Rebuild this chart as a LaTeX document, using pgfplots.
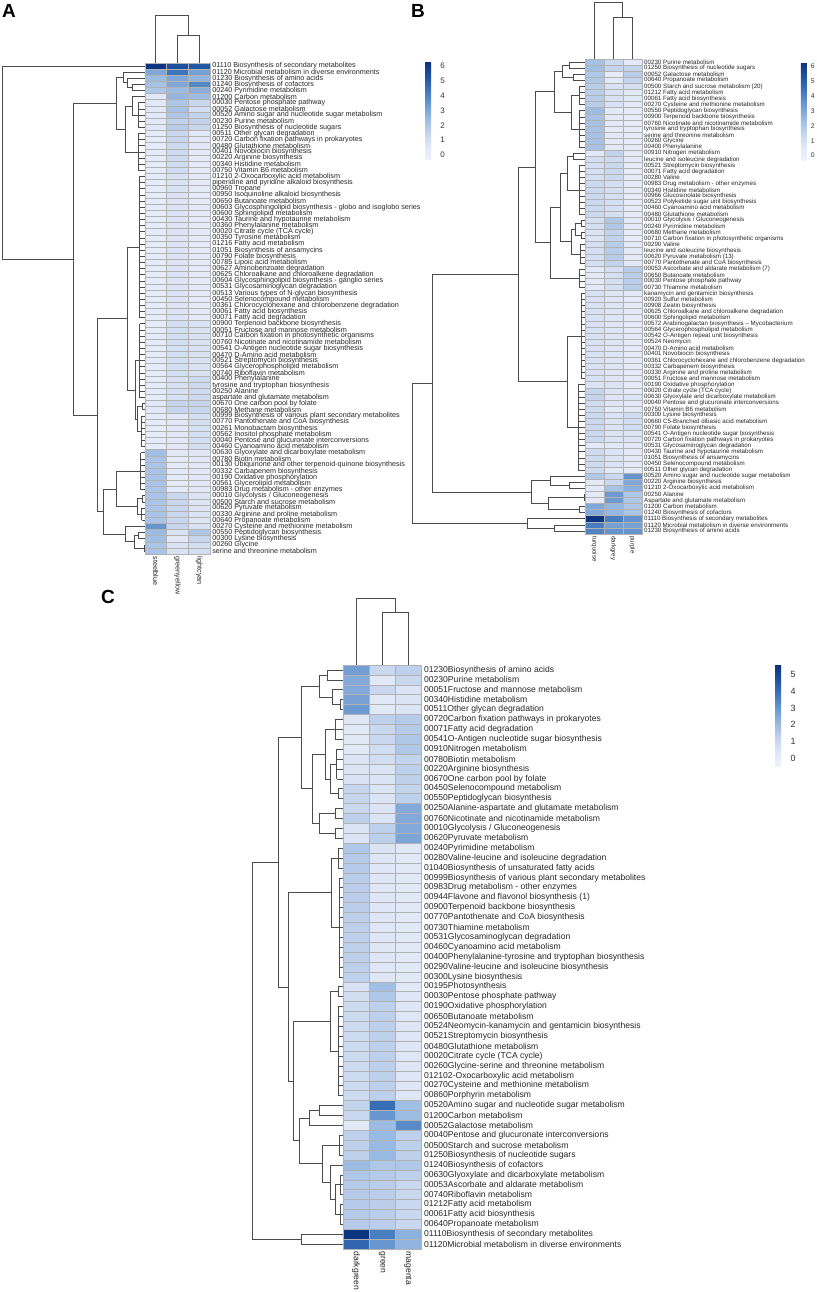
\documentclass[border=0pt]{standalone}
\usepackage{fontspec}
\setmainfont{Liberation Sans}
\usepackage{pgfplots}
\usepackage{pgfplotstable}
\pgfplotsset{compat=1.18}

\pgfplotsset{colormap={heat}{rgb255=(241,243,251) rgb255=(224,231,246) rgb255=(194,211,237) rgb255=(152,185,225) rgb255=(106,152,208) rgb255=(62,117,188) rgb255=(30,82,160) rgb255=(12,50,126)}}

\pgfdeclareplotmark{cellA}{\pgfpathrectangle{\pgfqpoint{-5.415pt}{-1.535pt}}{\pgfqpoint{10.83pt}{3.07pt}}\pgfusepathqfillstroke}
\pgfdeclareplotmark{cellB}{\pgfpathrectangle{\pgfqpoint{-4.75pt}{-1.5225pt}}{\pgfqpoint{9.5pt}{3.045pt}}\pgfusepathqfillstroke}
\pgfdeclareplotmark{cellC}{\pgfpathrectangle{\pgfqpoint{-6.5pt}{-2.475pt}}{\pgfqpoint{13pt}{4.95pt}}\pgfusepathqfillstroke}

\pgfplotsset{
  dend/.style={no markers, line width=0.35pt, draw=black!70, forget plot},
  hm/.style={scale only axis, enlargelimits=false, clip=false, y dir=reverse,
    axis line style={draw=none}, major tick length=0pt, xtick=\empty,
    yticklabel pos=right, yticklabel style={inner sep=0pt, xshift=1pt, text=black!85},
    colormap name=heat},
  cell/.style={scatter, only marks, mark=#1, point meta=explicit,
    scatter/use mapped color={draw=gray!60, fill=mapped color}, mark options={line width=0.3pt}},
}

% row dendrogram link: y1 h1 y2 h2 H
\newcommand\U[5]{\addplot[dend] coordinates {(-#2,#1) (-#5,#1) (-#5,#3) (-#4,#3)};}
% comb of leaves rows #1..#2 at height #3
\newcommand\Comb[3]{\addplot[dend] coordinates {(-#3,#1) (-#3,#2)};%
  \foreach \r in {#1,...,#2}{\edef\tmp{\noexpand\addplot[dend] coordinates {(0,\r) (-#3,\r)};}\tmp}}
% column dendrogram link: x1 y1 x2 y2 Y
\newcommand\V[5]{\addplot[dend] coordinates {(#1,#2) (#1,#5) (#3,#5) (#3,#4)};}

\pgfplotstableread{
r a b c
1 6.2 5.4 5.2
2 3.0 4.4 3.2
3 2.4 3.0 2.6
4 2.2 3.0 3.9
5 2.0 2.4 2.8
6 0.6 2.6 2.4
7 0.5 2.0 1.3
8 0.5 2.2 1.0
9 0.5 2.0 1.6
10 0.5 1.6 1.6
11 0.5 1.8 1.3
12 0.3 1.3 0.5
13 0.3 1.3 0.5
14 0.3 1.2 0.5
15 0.3 1.2 0.4
16 0.3 1.2 0.4
17 0.3 1.1 0.4
18 0.3 1.1 0.4
19 0.3 0.8 0.4
20 0.3 0.8 0.4
21 0.3 0.8 0.4
22 0.3 0.8 0.4
23 0.3 0.7 0.4
24 0.3 0.7 0.4
25 0.3 0.7 0.4
26 0.3 0.7 0.4
27 0.3 0.7 0.4
28 0.3 0.7 0.4
29 0.3 0.7 0.4
30 0.3 0.7 0.4
31 0.3 0.7 0.4
32 0.3 0.7 0.4
33 0.3 0.7 0.4
34 0.3 0.7 0.4
35 0.3 0.7 0.4
36 0.3 0.7 0.4
37 0.3 0.7 0.4
38 0.3 0.7 0.4
39 0.3 0.7 0.4
40 0.3 0.7 0.4
41 0.3 0.7 0.4
42 0.3 0.7 0.4
43 0.3 1.0 0.8
44 0.3 1.0 0.8
45 0.3 1.0 0.8
46 0.3 1.0 0.8
47 0.3 1.0 0.8
48 0.3 1.0 0.8
49 0.3 1.0 0.8
50 0.3 1.0 0.8
51 0.3 1.0 0.8
52 0.3 0.9 1.2
53 0.3 0.9 1.2
54 0.3 0.9 1.2
55 0.3 0.9 1.2
56 0.5 1.4 1.4
57 0.5 1.4 1.4
58 0.3 0.5 1.0
59 0.3 0.5 1.0
60 0.3 0.5 1.0
61 0.3 0.5 1.0
62 0.3 0.5 1.0
63 0.3 0.5 1.0
64 2.3 0.5 0.6
65 2.1 0.4 0.5
66 2.1 0.4 0.5
67 2.1 0.4 0.5
68 2.1 0.4 0.5
69 2.1 0.4 0.5
70 2.1 0.4 0.5
71 2.1 1.3 0.7
72 2.1 1.3 0.7
73 2.1 1.3 0.7
74 2.1 1.3 0.7
75 2.1 1.3 0.7
76 3.5 1.4 0.8
77 2.4 0.8 2.0
78 2.3 0.5 1.4
79 2.1 0.8 1.0
80 2.1 0.8 1.0
}\dataA

\pgfplotstableread{
r a b c
1 2.2 1.3 0.5
2 2.3 1.5 1.5
3 2.0 0.3 1.8
4 2.0 0.5 1.5
5 1.8 0.9 1.0
6 1.8 0.9 0.6
7 1.8 0.9 0.6
8 1.8 0.9 0.6
9 2.4 0.5 0.4
10 2.2 0.5 0.3
11 2.2 0.5 0.3
12 2.2 0.5 0.3
13 2.2 0.5 0.3
14 2.2 0.5 0.3
15 2.2 0.5 0.3
16 0.5 1.6 0.5
17 1.0 1.2 0.5
18 1.0 1.3 0.3
19 1.0 1.3 0.3
20 1.0 1.3 0.3
21 1.3 1.0 0.3
22 1.3 1.0 0.3
23 1.3 1.0 0.3
24 1.3 1.0 0.3
25 1.3 1.0 0.3
26 1.3 1.0 0.3
27 1.0 2.0 0.5
28 1.0 2.0 0.5
29 0.8 1.6 0.4
30 0.8 1.6 0.3
31 1.0 1.8 0.5
32 1.0 1.8 0.5
33 1.0 1.8 0.5
34 1.0 1.6 0.5
35 0.5 1.0 1.8
36 0.5 1.0 1.8
37 0.5 1.0 1.8
38 0.5 1.0 1.8
39 0.9 0.7 0.4
40 0.9 0.7 0.4
41 0.9 0.7 0.4
42 0.9 0.7 0.4
43 0.9 0.7 0.4
44 0.9 0.7 0.4
45 0.9 0.7 0.4
46 0.9 0.7 0.4
47 0.9 0.7 0.4
48 0.9 0.7 0.4
49 0.9 0.7 0.4
50 0.9 0.7 0.4
51 0.9 0.7 0.4
52 0.9 0.7 0.4
53 0.9 0.7 0.4
54 0.8 0.8 0.3
55 1.5 0.8 0.5
56 1.5 0.7 0.8
57 1.2 0.7 0.5
58 1.2 0.5 0.5
59 1.3 0.8 1.1
60 1.3 0.8 1.1
61 1.3 0.8 1.1
62 1.3 0.8 0.8
63 1.3 0.8 0.8
64 0.5 0.5 0.6
65 1.2 0.8 0.5
66 1.2 0.8 0.5
67 1.2 0.8 0.5
68 1.2 0.5 0.3
69 2.0 1.3 3.6
70 0.5 1.3 3.0
71 0.5 2.2 2.8
72 0.5 3.4 2.0
73 0.5 3.4 2.0
74 3.0 2.6 2.0
75 3.0 2.6 2.1
76 6.2 4.2 3.6
77 4.2 3.2 3.2
78 4.0 3.6 3.6
}\dataB

\pgfplotstableread{
r a b c
1 2.8 1.0 1.3
2 2.5 0.3 1.0
3 2.5 1.0 0.5
4 2.7 0.3 0.5
5 2.9 0.3 0.5
6 0.4 1.3 1.5
7 0.3 1.0 1.5
8 0.3 1.0 1.6
9 0.3 0.8 1.6
10 0.5 0.8 1.2
11 0.5 0.5 1.3
12 0.6 0.5 1.3
13 1.1 0.5 1.2
14 1.1 0.5 1.3
15 1.0 0.5 2.5
16 1.3 0.5 2.5
17 0.5 1.3 2.5
18 0.5 1.3 2.6
19 1.6 0.5 0.3
20 1.5 0.4 0.3
21 1.5 0.4 0.3
22 1.4 0.4 0.3
23 1.4 0.4 0.3
24 1.4 0.4 0.3
25 1.4 0.4 0.3
26 1.3 0.4 0.3
27 1.3 0.4 0.3
28 1.3 0.4 0.3
29 1.3 0.4 0.3
30 1.3 0.4 0.3
31 1.3 0.4 0.3
32 1.3 0.4 0.3
33 0.6 1.9 0.3
34 0.8 1.6 0.4
35 0.9 1.3 0.4
36 0.9 1.3 0.4
37 0.9 1.3 0.4
38 0.9 1.3 0.4
39 0.9 1.3 0.4
40 0.9 1.3 0.4
41 0.9 1.3 0.4
42 0.9 1.3 0.4
43 0.9 1.3 0.4
44 0.9 1.3 0.4
45 1.2 4.0 1.9
46 1.0 3.0 2.0
47 0.3 2.0 3.3
48 1.3 2.1 1.3
49 1.3 2.1 1.3
50 1.3 2.1 1.3
51 2.0 1.6 1.6
52 1.6 1.5 1.3
53 1.5 1.4 1.0
54 1.5 1.4 1.0
55 1.5 1.4 1.0
56 1.5 1.4 1.0
57 1.5 1.4 1.0
58 5.5 3.6 2.3
59 4.2 3.0 2.2
}\dataC

\begin{document}
\begin{tikzpicture}
\useasboundingbox (0,0) rectangle (408pt,646pt);

%================ A =================
\begin{axis}[hm, at={(0pt,638.5pt)}, anchor=north west,
  width=105pt, height=269.55pt, xmin=-6.69, xmax=3, ymin=-7.3, ymax=80.5,
  point meta min=-0.34, point meta max=6.27,
  ytick={1,...,80},
  yticklabel style={font=\fontsize{3.6}{4}\selectfont},
  yticklabels={
01110 Biosynthesis of secondary metabolites,
01120 Microbial metabolism in diverse environments,
01230 Biosynthesis of amino acids,
01240 Biosynthesis of cofactors,
00240 Pyrimidine metabolism,
01200 Carbon metabolism,
00030 Pentose phosphate pathway,
00052 Galactose metabolism,
00520 Amino sugar and nucleotide sugar metabolism,
00230 Purine metabolism,
01250 Biosynthesis of nucleotide sugars,
00511 Other glycan degradation,
00720 Carbon fixation pathways in prokaryotes,
00480 Glutathione metabolism,
00401 Novobiocin biosynthesis,
00220 Arginine biosynthesis,
00340 Histidine metabolism,
00750 Vitamin B6 metabolism,
01210 2-Oxocarboxylic acid metabolism,
piperidine and pyridine alkaloid biosynthesis,
00960 Tropane,
00950 Isoquinoline alkaloid biosynthesis,
00650 Butanoate metabolism,
00603 Glycosphingolipid biosynthesis - globo and isoglobo series,
00600 Sphingolipid metabolism,
00430 Taurine and hypotaurine metabolism,
00360 Phenylalanine metabolism,
00020 Citrate cycle (TCA cycle),
00350 Tyrosine metabolism,
01216 Fatty acid metabolism,
01051 Biosynthesis of ansamycins,
00790 Folate biosynthesis,
00785 Lipoic acid metabolism,
00627 Aminobenzoate degradation,
00625 Chloroalkane and chloroalkene degradation,
00604 Glycosphingolipid biosynthesis - ganglio series,
00531 Glycosaminoglycan degradation,
00513 Various types of N-glycan biosynthesis,
00450 Selenocompound metabolism,
00361 Chlorocyclohexane and chlorobenzene degradation,
00061 Fatty acid biosynthesis,
00071 Fatty acid degradation,
00900 Terpenoid backbone biosynthesis,
00051 Fructose and mannose metabolism,
00710 Carbon fixation in photosynthetic organisms,
00760 Nicotinate and nicotinamide metabolism,
00541 O-Antigen nucleotide sugar biosynthesis,
00470 D-Amino acid metabolism,
00521 Streptomycin biosynthesis,
00564 Glycerophospholipid metabolism,
00740 Riboflavin metabolism,
00400 Phenylalanine,
tyrosine and tryptophan biosynthesis,
00250 Alanine,
aspartate and glutamate metabolism,
00670 One carbon pool by folate,
00680 Methane metabolism,
00999 Biosynthesis of various plant secondary metabolites,
00770 Pantothenate and CoA biosynthesis,
00261 Monobactam biosynthesis,
00562 Inositol phosphate metabolism,
00040 Pentose and glucuronate interconversions,
00460 Cyanoamino acid metabolism,
00630 Glyoxylate and dicarboxylate metabolism,
00780 Biotin metabolism,
00130 Ubiquinone and other terpenoid-quinone biosynthesis,
00332 Carbapenem biosynthesis,
00190 Oxidative phosphorylation,
00561 Glycerolipid metabolism,
00983 Drug metabolism - other enzymes,
00010 Glycolysis / Gluconeogenesis,
00500 Starch and sucrose metabolism,
00620 Pyruvate metabolism,
00330 Arginine and proline metabolism,
00640 Propanoate metabolism,
00270 Cysteine and methionine metabolism,
00550 Peptidoglycan biosynthesis,
00300 Lysine biosynthesis,
00260 Glycine,
serine and threonine metabolism},
  colorbar,
  colorbar style={scale only axis, at={(parent axis.north east)}, anchor=north west,
    xshift=99pt, yshift=-23.5pt, width=3pt, height=49pt,
    axis line style={draw=none}, major tick length=0pt, ytick={0,1,2,3,4,5,6},
    yticklabel style={font=\fontsize{4}{4}\selectfont, text=black!80, inner sep=0pt, xshift=4.5pt,
      /pgf/number format/assume math mode=true}},
]
\addplot[cell=cellA] table[x expr=0.5, y=r, meta=a] {\dataA};
\addplot[cell=cellA] table[x expr=1.5, y=r, meta=b] {\dataA};
\addplot[cell=cellA] table[x expr=2.5, y=r, meta=c] {\dataA};
% row dendrogram
\Comb{19}{42}{0.25}
\Comb{43}{55}{0.25}
\U{56}{0}{57}{0}{0.1}
\Comb{58}{63}{0.15}
\U{56.5}{0.1}{60.5}{0.15}{0.35}
\U{49}{0.25}{58.5}{0.35}{0.45}
\U{30.5}{0.25}{53.75}{0.45}{0.8}
\Comb{12}{18}{0.3}
\Comb{7}{11}{0.3}
\U{6}{0}{9}{0.3}{0.6}
\U{7.5}{0.6}{15}{0.3}{0.9}
\U{4}{0}{5}{0}{0.6}
\U{3}{0}{4.5}{0.6}{0.8}
\U{2}{0}{3.75}{0.8}{1.0}
\U{2.875}{1.0}{11.25}{0.9}{1.3}
\Comb{64}{70}{0.2}
\U{71}{0}{72}{0}{0.1}
\Comb{73}{75}{0.15}
\U{71.5}{0.1}{74}{0.15}{0.35}
\U{67}{0.2}{72.75}{0.35}{1.3}
\U{77}{0}{78}{0}{0.3}
\U{79}{0}{80}{0}{0.05}
\U{77.5}{0.3}{79.5}{0.05}{0.5}
\U{76}{0}{78.5}{0.5}{0.9}
\U{69.875}{1.3}{77.25}{0.9}{1.9}
\U{42.125}{0.8}{73.56}{1.9}{2.2}
\U{7.06}{1.3}{57.84}{2.2}{3.3}
\U{1}{0}{32.45}{3.3}{6.6}
% column dendrogram
\V{1.5}{0.5}{2.5}{0.5}{-4.04}
\V{0.5}{0.5}{2.0}{-4.04}{-7.25}
\node[rotate=-90, anchor=west, inner sep=1pt, font=\fontsize{3.6}{4}\selectfont, text=black!85] at (axis cs:0.5,80.5) {steelblue};
\node[rotate=-90, anchor=west, inner sep=1pt, font=\fontsize{3.6}{4}\selectfont, text=black!85] at (axis cs:1.5,80.5) {greenyellow};
\node[rotate=-90, anchor=west, inner sep=1pt, font=\fontsize{3.6}{4}\selectfont, text=black!85] at (axis cs:2.5,80.5) {lightcyan};
\end{axis}

%================ B =================
\begin{axis}[hm, at={(205pt,645pt)}, anchor=north west,
  width=115.9pt, height=266pt, xmin=-9.2, xmax=3, ymin=-8.86, ymax=78.5,
  point meta min=-0.3, point meta max=6.3,
  ytick={1,...,78},
  yticklabel style={font=\fontsize{3.1}{3.5}\selectfont},
  yticklabels={
00230 Purine metabolism,
01250 Biosynthesis of nucleotide sugars,
00052 Galactose metabolism,
00640 Propanoate metabolism,
00500 Starch and sucrose metabolism (20),
01212 Fatty acid metabolism,
00061 Fatty acid biosynthesis,
00270 Cysteine and methionine metabolism,
00550 Peptidoglycan biosynthesis,
00900 Terpenoid backbone biosynthesis,
00760 Nicotinate and nicotinamide metabolism,
tyrosine and tryptophan biosynthesis,
serine and threonine metabolism,
00260 Glycine,
00400 Phenylalanine,
00910 Nitrogen metabolism,
leucine and isoleucine degradation,
00521 Streptomycin biosynthesis,
00071 Fatty acid degradation,
00280 Valine,
00983 Drug metabolism - other enzymes,
00340 Histidine metabolism,
00966 Glucosinolate biosynthesis,
00523 Polyketide sugar unit biosynthesis,
00460 Cyanoamino acid metabolism,
00480 Glutathione metabolism,
00010 Glycolysis / Gluconeogenesis,
00240 Pyrimidine metabolism,
00680 Methane metabolism,
00710 Carbon fixation in photosynthetic organisms,
00290 Valine,
leucine and isoleucine biosynthesis,
00620 Pyruvate metabolism (13),
00770 Pantothenate and CoA biosynthesis,
00053 Ascorbate and aldarate metabolism (7),
00650 Butanoate metabolism,
00030 Pentose phosphate pathway,
00730 Thiamine metabolism,
kanamycin and gentamicin biosynthesis,
00920 Sulfur metabolism,
00908 Zeatin biosynthesis,
00625 Chloroalkane and chloroalkene degradation,
00600 Sphingolipid metabolism,
00572 Arabinogalactan biosynthesis – Mycobacterium,
00564 Glycerophospholipid metabolism,
00542 O-Antigen repeat unit biosynthesis,
00524 Neomycin,
00470 D-Amino acid metabolism,
00401 Novobiocin biosynthesis,
00361 Chlorocyclohexane and chlorobenzene degradation,
00332 Carbapenem biosynthesis,
00330 Arginine and proline metabolism,
00051 Fructose and mannose metabolism,
00190 Oxidative phosphorylation,
00020 Citrate cycle (TCA cycle),
00630 Glyoxylate and dicarboxylate metabolism,
00040 Pentose and glucuronate interconversions,
00750 Vitamin B6 metabolism,
00300 Lysine biosynthesis,
00660 C5-Branched dibasic acid metabolism,
00790 Folate biosynthesis,
00541 O-Antigen nucleotide sugar biosynthesis,
00720 Carbon fixation pathways in prokaryotes,
00531 Glycosaminoglycan degradation,
00430 Taurine and hypotaurine metabolism,
01051 Biosynthesis of ansamycins,
00450 Selenocompound metabolism,
00511 Other glycan degradation,
00520 Amino sugar and nucleotide sugar metabolism,
00220 Arginine biosynthesis,
01210 2-Oxocarboxylic acid metabolism,
00250 Alanine,
Aspartate and glutamate metabolism,
01200 Carbon metabolism,
01240 Biosynthesis of cofactors,
01110 Biosynthesis of secondary metabolites,
01120 Microbial metabolism in diverse environments,
01230 Biosynthesis of amino acids},
  colorbar,
  colorbar style={scale only axis, at={(parent axis.north east)}, anchor=north west,
    xshift=71pt, yshift=-30pt, width=2.75pt, height=49pt,
    axis line style={draw=none}, major tick length=0pt, ytick={0,1,2,3,4,5,6},
    yticklabel style={font=\fontsize{3.4}{4}\selectfont, text=black!80, inner sep=0pt, xshift=2pt,
      /pgf/number format/assume math mode=true}},
]
\addplot[cell=cellB] table[x expr=0.5, y=r, meta=a] {\dataB};
\addplot[cell=cellB] table[x expr=1.5, y=r, meta=b] {\dataB};
\addplot[cell=cellB] table[x expr=2.5, y=r, meta=c] {\dataB};
\U{1}{0}{2}{0}{0.8}
\U{3}{0}{4}{0}{0.6}
\U{1.5}{0.8}{3.5}{0.6}{1.2}
\Comb{5}{8}{0.3}
\Comb{9}{15}{0.3}
\U{6.5}{0.3}{12}{0.3}{0.7}
\U{2.5}{1.2}{9.25}{0.7}{1.6}
\U{16}{0}{17}{0}{0.6}
\Comb{18}{26}{0.3}
\U{16.5}{0.6}{22}{0.3}{0.9}
\U{27}{0}{28}{0}{0.2}
\U{29}{0}{30}{0}{0.2}
\U{27.5}{0.2}{29.5}{0.2}{0.5}
\Comb{31}{34}{0.25}
\U{28.5}{0.5}{32.5}{0.25}{0.7}
\U{19.25}{0.9}{30.5}{0.7}{1.3}
\Comb{35}{38}{0.3}
\U{24.875}{1.3}{36.5}{0.3}{1.8}
\Comb{39}{53}{0.2}
\Comb{54}{68}{0.35}
\U{46}{0.2}{61}{0.35}{0.9}
\U{5.875}{1.6}{30.6875}{1.8}{2.6}
\U{18.28}{2.6}{53.5}{0.9}{3.5}
\U{70}{0}{71}{0}{0.8}
\U{69}{0}{70.5}{0.8}{1.8}
\U{72}{0}{73}{0}{0.05}
\U{74}{0}{75}{0}{0.3}
\U{72.5}{0.05}{74.5}{0.3}{1.9}
\U{69.75}{1.8}{73.5}{1.9}{2.8}
\U{35.89}{3.5}{71.625}{2.8}{8.0}
\U{77}{0}{78}{0}{1.6}
\U{76}{0}{77.5}{1.6}{3.0}
\U{53.76}{8.0}{76.75}{3.0}{9.1}
\V{1.5}{0.5}{2.5}{0.5}{-6.4}
\V{0.5}{0.5}{2.0}{-6.4}{-8.8}
\node[rotate=-90, anchor=west, inner sep=1pt, font=\fontsize{3.1}{3.5}\selectfont, text=black!85] at (axis cs:0.5,78.5) {turquoise};
\node[rotate=-90, anchor=west, inner sep=1pt, font=\fontsize{3.1}{3.5}\selectfont, text=black!85] at (axis cs:1.5,78.5) {darkgrey};
\node[rotate=-90, anchor=west, inner sep=1pt, font=\fontsize{3.1}{3.5}\selectfont, text=black!85] at (axis cs:2.5,78.5) {purple};
\end{axis}

%================ C =================
\begin{axis}[hm, at={(125pt,347pt)}, anchor=north west,
  width=85.54pt, height=325.56pt, xmin=-3.58, xmax=3, ymin=-6.27, ymax=59.5,
  point meta min=-0.5, point meta max=5.55,
  ytick={1,...,59},
  yticklabel style={font=\fontsize{4.3}{5}\selectfont, xshift=0.3pt},
  yticklabels={
01230Biosynthesis of amino acids,
00230Purine metabolism,
00051Fructose and mannose metabolism,
00340Histidine metabolism,
00511Other glycan degradation,
00720Carbon fixation pathways in prokaryotes,
00071Fatty acid degradation,
00541O-Antigen nucleotide sugar biosynthesis,
00910Nitrogen metabolism,
00780Biotin metabolism,
00220Arginine biosynthesis,
00670One carbon pool by folate,
00450Selenocompound metabolism,
00550Peptidoglycan biosynthesis,
00250Alanine-aspartate and glutamate metabolism,
00760Nicotinate and nicotinamide metabolism,
00010Glycolysis / Gluconeogenesis,
00620Pyruvate metabolism,
00240Pyrimidine metabolism,
00280Valine-leucine and isoleucine degradation,
01040Biosynthesis of unsaturated fatty acids,
00999Biosynthesis of various plant secondary metabolites,
00983Drug metabolism - other enzymes,
00944Flavone and flavonol biosynthesis (1),
00900Terpenoid backbone biosynthesis,
00770Pantothenate and CoA biosynthesis,
00730Thiamine metabolism,
00531Glycosaminoglycan degradation,
00460Cyanoamino acid metabolism,
00400Phenylalanine-tyrosine and tryptophan biosynthesis,
00290Valine-leucine and isoleucine biosynthesis,
00300Lysine biosynthesis,
00195Photosynthesis,
00030Pentose phosphate pathway,
00190Oxidative phosphorylation,
00650Butanoate metabolism,
00524Neomycin-kanamycin and gentamicin biosynthesis,
00521Streptomycin biosynthesis,
00480Glutathione metabolism,
00020Citrate cycle (TCA cycle),
00260Glycine-serine and threonine metabolism,
012102-Oxocarboxylic acid metabolism,
00270Cysteine and methionine metabolism,
00860Porphyrin metabolism,
00520Amino sugar and nucleotide sugar metabolism,
01200Carbon metabolism,
00052Galactose metabolism,
00040Pentose and glucuronate interconversions,
00500Starch and sucrose metabolism,
01250Biosynthesis of nucleotide sugars,
01240Biosynthesis of cofactors,
00630Glyoxylate and dicarboxylate metabolism,
00053Ascorbate and aldarate metabolism,
00740Riboflavin metabolism,
01212Fatty acid metabolism,
00061Fatty acid biosynthesis,
00640Propanoate metabolism,
01110Biosynthesis of secondary metabolites,
01120Microbial metabolism in diverse environments},
  colorbar,
  colorbar style={scale only axis, at={(parent axis.north east)}, anchor=north west,
    xshift=168.5pt, yshift=-33.5pt, width=3pt, height=51pt,
    axis line style={draw=none}, major tick length=0pt, ytick={0,1,2,3,4,5},
    yticklabel style={font=\fontsize{4.5}{5}\selectfont, text=black!80, inner sep=0pt, xshift=4.5pt,
      /pgf/number format/assume math mode=true}},
]
\addplot[cell=cellC] table[x expr=0.5, y=r, meta=a] {\dataC};
\addplot[cell=cellC] table[x expr=1.5, y=r, meta=b] {\dataC};
\addplot[cell=cellC] table[x expr=2.5, y=r, meta=c] {\dataC};
\U{1}{0}{2}{0}{0.6}
\U{4}{0}{5}{0}{0.1}
\U{3}{0}{4.5}{0.1}{0.4}
\U{1.5}{0.6}{3.75}{0.4}{0.9}
\Comb{6}{8}{0.3}
\Comb{9}{12}{0.25}
\U{13}{0}{14}{0}{0.2}
\U{10.5}{0.25}{13.5}{0.2}{0.5}
\U{7}{0.3}{12}{0.5}{0.7}
\U{15}{0}{16}{0}{0.3}
\U{17}{0}{18}{0}{0.3}
\U{15.5}{0.3}{17.5}{0.3}{0.9}
\U{9.5}{0.7}{16.5}{0.9}{1.2}
\U{2.625}{0.9}{13}{1.2}{1.6}
\Comb{19}{21}{0.2}
\Comb{22}{32}{0.15}
\U{20}{0.2}{27}{0.15}{0.45}
\U{33}{0}{34}{0}{0.2}
\Comb{35}{44}{0.2}
\U{33.5}{0.2}{39.5}{0.2}{0.5}
\U{45}{0}{46}{0}{0.9}
\U{45.5}{0.9}{47}{0}{1.3}
\Comb{48}{50}{0.15}
\Comb{52}{54}{0.1}
\Comb{55}{57}{0.1}
\U{53}{0.1}{56}{0.1}{0.3}
\U{51}{0}{54.5}{0.3}{0.5}
\U{49}{0.15}{52.75}{0.5}{0.8}
\U{46.25}{1.3}{50.875}{0.8}{1.7}
\U{36.5}{0.5}{48.5625}{1.7}{1.9}
\U{23.5}{0.45}{42.53}{1.9}{2.1}
\U{7.8125}{1.6}{33.02}{2.1}{2.5}
\U{58}{0}{59}{0}{1.6}
\U{20.41}{2.5}{58.5}{1.6}{3.5}
\V{1.5}{0.5}{2.5}{0.5}{-4.85}
\V{0.5}{0.5}{2.0}{-4.85}{-6.22}
\node[rotate=-90, anchor=west, inner sep=1pt, font=\fontsize{4.3}{5}\selectfont, text=black!85] at (axis cs:0.5,59.5) {darkgreen};
\node[rotate=-90, anchor=west, inner sep=1pt, font=\fontsize{4.3}{5}\selectfont, text=black!85] at (axis cs:1.5,59.5) {green};
\node[rotate=-90, anchor=west, inner sep=1pt, font=\fontsize{4.3}{5}\selectfont, text=black!85] at (axis cs:2.5,59.5) {magenta};
\end{axis}

\node[font=\bfseries\fontsize{9.5}{10}\selectfont] at (4.5pt,640.5pt) {A};
\node[font=\bfseries\fontsize{9.5}{10}\selectfont] at (209pt,640.5pt) {B};
\node[font=\bfseries\fontsize{9.5}{10}\selectfont] at (54pt,347.5pt) {C};
\end{tikzpicture}
\end{document}
